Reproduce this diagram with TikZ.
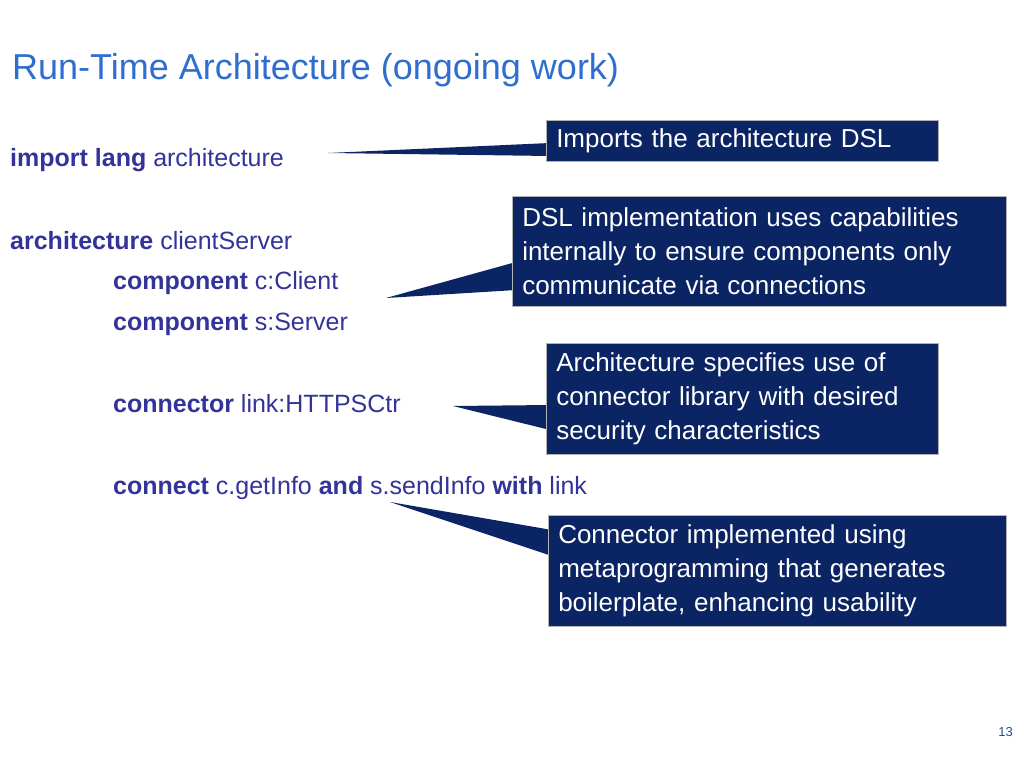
\documentclass[tikz,border=0pt]{standalone}
\usepackage{fontspec}
\setmainfont{Liberation Sans}
\definecolor{navy}{HTML}{0B2463}
\definecolor{codec}{HTML}{333399}
\definecolor{titlec}{HTML}{2F6ECF}
\begin{document}
\begin{tikzpicture}[x=1pt,y=-1pt,
  code/.style={anchor=base west,inner sep=0,text=codec,font=\fontsize{25}{30}\selectfont},
  box/.style={fill=navy,draw=gray!60,line width=0.5pt,anchor=north west,text=white,align=left,inner xsep=10pt,inner ysep=0pt,font=\fontsize{26}{34}\selectfont}]
\useasboundingbox[fill=white] (0,0) rectangle (1024,768);
\node[anchor=base west,inner sep=0,text=titlec,font=\fontsize{36}{40}\selectfont] (title) at (12,79) {Run-Time Architecture (ongoing work)};
\node[code] (l1) at (10,166) {\textbf{import lang} architecture};
\node[code] (l2) at (10,249) {\textbf{architecture} clientServer};
\node[code] (l3) at (113,289) {\textbf{component} c:Client};
\node[code] (l4) at (113,330) {\textbf{component} s:Server};
\node[code] (l5) at (113,412) {\textbf{connector} link:HTTPSCtr};
\node[code] (l6) at (113,494) {\textbf{connect} c.getInfo \textbf{and} s.sendInfo \textbf{with} link};
% pointers
\coordinate (t1) at (328,153); \coordinate (t2) at (386,298);
\coordinate (t3) at (453,406); \coordinate (t4) at (390,502);
\fill[navy] (t1) -- (550,143) -- (550,156) -- cycle;
\fill[navy] (t2) -- (516,262) -- (516,290) -- cycle;
\fill[navy] (t3) -- (550,405) -- (550,430) -- cycle;
\fill[navy] (t4) -- (552,530) -- (552,556) -- cycle;
\node[box,minimum width=392pt,minimum height=41pt,text width=372pt] (b1) at (546,120) {Imports the architecture DSL};
\node[box,minimum width=494pt,minimum height=110pt,text width=474pt] (b2) at (512,196) {DSL implementation uses capabilities\\internally to ensure components only\\communicate via connections};
\node[box,minimum width=392pt,minimum height=111pt,text width=372pt] (b3) at (546,343) {Architecture specifies use of\\connector library with desired\\security characteristics};
\node[box,minimum width=458pt,minimum height=111pt,text width=438pt] (b4) at (548,515) {Connector implemented using\\metaprogramming that generates\\boilerplate, enhancing usability};
\node[anchor=base east,inner sep=0,text=titlec!70!black,font=\fontsize{13}{15}\selectfont] (pg) at (1013,736) {13};
\end{tikzpicture}
\end{document}
